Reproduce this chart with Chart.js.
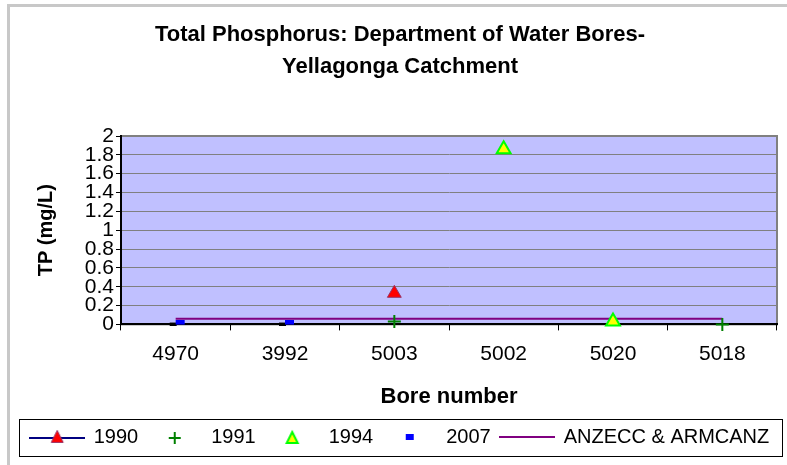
<!DOCTYPE html>
<html>
<head>
<meta charset="utf-8">
<script src="https://cdn.jsdelivr.net/npm/chart.js@4"></script>
<style>
  html, body { margin: 0; padding: 0; background: #fff; overflow: hidden; }
  #wrap { width: 787px; height: 465px; position: relative; }
</style>
</head>
<body>
<div id="wrap"><canvas id="tpChart"></canvas></div>
<script>
const bores = ["4970", "3992", "5003", "5002", "5020", "5018"];
const tp1990 = [null, null, 0.33, null, null, null];
const tp1991 = [null, null, 0.03, null, null, 0];
const tp1994 = [null, null, null, 1.86, 0.03, null];
const tp2007 = [0.02, 0.02, null, null, null, null];
const guideline = [0.06, 0.06, 0.06, 0.06, 0.06, 0.06];
const seriesNames = ["1990", "1991", "1994", "2007", "ANZECC & ARMCANZ"];

const FONT = "Arial, 'Liberation Sans', sans-serif";

function makeIcon(w, h, draw) {
    const c = document.createElement('canvas');
    c.width = w; c.height = h;
    draw(c.getContext('2d'), w, h);
    return c;
}

function tri(ctx, cx, cy, s, fill, stroke, lw) {
    ctx.beginPath();
    ctx.moveTo(cx, cy - s * 0.55);
    ctx.lineTo(cx + s / 2, cy + s * 0.45);
    ctx.lineTo(cx - s / 2, cy + s * 0.45);
    ctx.closePath();
    ctx.fillStyle = fill; ctx.fill();
    ctx.lineWidth = lw; ctx.strokeStyle = stroke; ctx.stroke();
}

// marker for 2007 (blue dash with a dark dash behind it)
const dash2007 = makeIcon(20, 6, (ctx) => {
    ctx.fillStyle = '#000';
    ctx.fillRect(4, 3, 7, 3);
    ctx.fillStyle = '#0000ff';
    ctx.fillRect(10, 0, 9, 5);
});

const legendIcons = [
    makeIcon(56, 16, (ctx, w, h) => {
        ctx.strokeStyle = '#000080'; ctx.lineWidth = 2;
        ctx.beginPath(); ctx.moveTo(0, 9); ctx.lineTo(w, 9); ctx.stroke();
        tri(ctx, w / 2, 8, 12, '#ff0000', '#993366', 1);
    }),
    makeIcon(16, 16, (ctx) => {
        ctx.strokeStyle = '#008000'; ctx.lineWidth = 2;
        ctx.beginPath();
        ctx.moveTo(2, 9); ctx.lineTo(14, 9);
        ctx.moveTo(8, 3); ctx.lineTo(8, 15);
        ctx.stroke();
    }),
    makeIcon(16, 16, (ctx) => {
        tri(ctx, 8, 9, 11, '#ffff00', '#00ff00', 2);
    }),
    makeIcon(10, 8, (ctx) => {
        ctx.fillStyle = '#0000ff';
        ctx.fillRect(1, 1, 8, 6);
    }),
    makeIcon(56, 4, (ctx, w) => {
        ctx.strokeStyle = '#800080'; ctx.lineWidth = 2;
        ctx.beginPath(); ctx.moveTo(0, 2); ctx.lineTo(w, 2); ctx.stroke();
    })
];

const framePlugin = {
    id: 'frame',
    beforeDraw(chart) {
        const {ctx, chartArea: a} = chart;
        ctx.save();
        ctx.strokeStyle = '#c8c8c8';
        ctx.lineWidth = 3;
        ctx.strokeRect(8.5, 5.5, 800, 500);
        ctx.fillStyle = '#c0c0ff';
        ctx.fillRect(a.left, a.top, a.right - a.left, a.bottom - a.top);
        ctx.strokeStyle = '#808080';
        ctx.lineWidth = 2;
        ctx.strokeRect(a.left, a.top, a.right - a.left, a.bottom - a.top);
        ctx.restore();
    },
    afterDraw(chart) {
        const lg = chart.legend;
        if (!lg || !lg.legendHitBoxes.length) return;
        const ctx = chart.ctx;
        ctx.save();
        ctx.strokeStyle = '#000';
        ctx.lineWidth = 1;
        ctx.strokeRect(19.5, lg.top + 2.5, 763, lg.bottom - lg.top - 3);
        ctx.restore();
    }
};

const ctx = document.getElementById('tpChart').getContext('2d');
new Chart(ctx, {
    type: 'line',
    data: {
        labels: bores,
        datasets: [
            {
                label: seriesNames[0], data: tp1990, showLine: false, clip: false,
                pointStyle: 'triangle', pointRadius: 8, pointHoverRadius: 8,
                backgroundColor: '#ff0000', borderColor: '#993366', pointBorderWidth: 1
            },
            {
                label: seriesNames[1], data: tp1991, showLine: false, clip: false,
                pointStyle: 'cross', pointRadius: 6.5, pointHoverRadius: 6.5,
                backgroundColor: '#008000', borderColor: '#008000', pointBorderWidth: 2
            },
            {
                label: seriesNames[2], data: tp1994, showLine: false, clip: false,
                pointStyle: 'triangle', pointRadius: 8, pointHoverRadius: 8,
                backgroundColor: '#ffff00', borderColor: '#00ff00', pointBorderWidth: 2
            },
            {
                label: seriesNames[3], data: tp2007, showLine: false, clip: false,
                pointStyle: dash2007, pointRadius: 5,
                backgroundColor: '#0000ff', borderColor: '#0000ff'
            },
            {
                label: seriesNames[4], data: guideline,
                borderColor: '#800080', backgroundColor: '#800080',
                borderWidth: 2, pointRadius: 0, pointHoverRadius: 0, tension: 0
            }
        ]
    },
    options: {
        responsive: true,
        maintainAspectRatio: false,
        animation: false,
        layout: { padding: { left: 19, right: 6, top: 0, bottom: 8 } },
        plugins: {
            title: {
                display: true,
                text: ['Total Phosphorus: Department of Water Bores-', 'Yellagonga Catchment'],
                color: '#000',
                font: { family: FONT, size: 22, weight: 'bold', lineHeight: '32px' },
                padding: { top: 19, bottom: 53 }
            },
            legend: {
                position: 'bottom',
                labels: {
                    color: '#000',
                    font: { family: FONT, size: 20 },
                    usePointStyle: true,
                    pointStyleWidth: 53,
                    padding: 10,
                    generateLabels(chart) {
                        return chart.data.datasets.map((ds, i) => ({
                            text: ds.label,
                            pointStyle: legendIcons[i],
                            fillStyle: ds.backgroundColor,
                            strokeStyle: ds.borderColor,
                            lineWidth: 0,
                            fontColor: '#000',
                            hidden: false,
                            datasetIndex: i
                        }));
                    }
                }
            },
            tooltip: { enabled: false }
        },
        scales: {
            x: {
                offset: true,
                grid: {
                    offset: true, drawOnChartArea: false, drawTicks: true,
                    tickLength: 6, tickColor: '#000'
                },
                border: { color: '#000', width: 2 },
                ticks: { color: '#000', font: { family: FONT, size: 21 }, padding: 11, maxRotation: 0 },
                title: {
                    display: true, text: 'Bore number', color: '#000',
                    font: { family: FONT, size: 22, weight: 'bold' },
                    padding: { top: 6, bottom: 7 }
                }
            },
            y: {
                min: 0, max: 2,
                afterFit(scale) { scale.width = 102; },
                grid: { color: '#808080', lineWidth: 1, tickLength: 5, tickColor: '#000' },
                border: { color: '#000', width: 2 },
                ticks: {
                    stepSize: 0.2, autoSkip: false, color: '#000', padding: 2,
                    font: { family: FONT, size: 21 },
                    callback: (v) => String(Number(v.toFixed(1)))
                },
                title: {
                    display: true, text: 'TP (mg/L)', color: '#000',
                    font: { family: FONT, size: 20, weight: 'bold' },
                    padding: { top: 15, bottom: 0 }
                }
            }
        }
    },
    plugins: [framePlugin]
});
</script>
</body>
</html>
